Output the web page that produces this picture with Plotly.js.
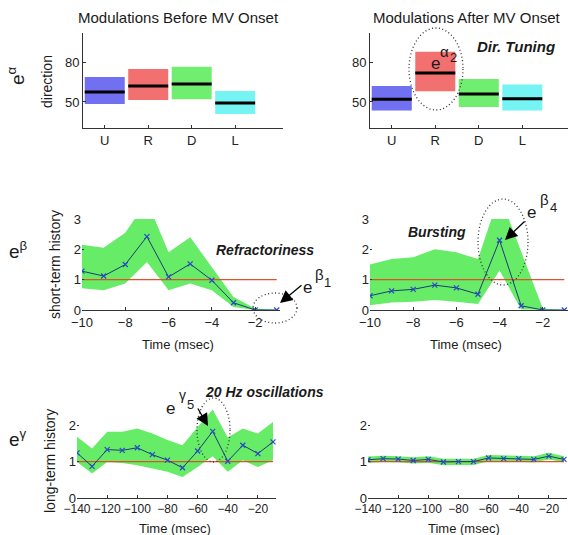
<!DOCTYPE html>
<html><head><meta charset="utf-8">
<script src="https://cdn.plot.ly/plotly-3.0.1.min.js"></script>
<style>html,body{margin:0;padding:0;background:#fff}#chart{width:568px;height:535px}</style>
</head><body><div id="chart"></div>
<script>
// ---------- data ----------
const dirCats = ['U', 'R', 'D', 'L'];
const dirBeforeMean  = [57.7, 62.3, 63.8, 49.2];
const dirBeforeUpper = [69.2, 75.4, 77.0, 58.5];
const dirBeforeLower = [48.5, 51.5, 52.0, 40.8];
const dirAfterMean   = [52.0, 72.2, 56.1, 52.5];
const dirAfterUpper  = [62.3, 88.6, 67.6, 63.4];
const dirAfterLower  = [43.4, 58.2, 46.2, 43.4];

const shortLags = [-10, -9, -8, -7, -6, -5, -4, -3, -2, -1];
const shortBeforeMean  = [1.28, 1.12, 1.50, 2.42, 1.09, 1.52, 0.98, 0.24, 0.00, 0.00];
const shortBeforeUpper = [2.15, 2.05, 2.55, 3.60, 1.90, 2.40, 1.41, 0.43, 0.05, 0.00];
const shortBeforeLower = [0.72, 0.65, 0.87, 1.58, 0.65, 0.87, 0.65, 0.10, 0.00, 0.00];
const shortAfterMean   = [0.47, 0.63, 0.68, 0.82, 0.73, 0.52, 2.30, 0.14, 0.00, 0.00];
const shortAfterUpper  = [1.50, 1.68, 1.74, 2.00, 1.90, 1.68, 3.80, 1.95, 0.05, 0.00];
const shortAfterLower  = [0.16, 0.25, 0.27, 0.33, 0.27, 0.20, 1.30, 0.02, 0.00, 0.00];

const longLags = [-140, -130, -120, -110, -100, -90, -80, -70, -60, -50, -40, -30, -20, -10];
const longBeforeMean  = [1.24, 0.87, 1.33, 1.31, 1.38, 1.19, 1.04, 0.83, 1.29, 1.83, 1.01, 1.45, 1.22, 1.54];
const longBeforeUpper = [1.68, 1.36, 1.82, 1.82, 1.91, 1.77, 1.59, 1.45, 1.95, 2.43, 1.66, 1.91, 1.77, 2.09];
const longBeforeLower = [0.99, 0.67, 0.99, 0.96, 0.90, 0.81, 0.72, 0.58, 0.85, 1.15, 0.72, 1.04, 0.85, 1.04];
const longAfterMean   = [1.05, 1.08, 1.07, 1.03, 1.06, 0.99, 1.00, 1.00, 1.10, 1.08, 1.08, 1.06, 1.15, 1.06];
const longAfterUpper  = [1.14, 1.16, 1.15, 1.12, 1.15, 1.08, 1.08, 1.08, 1.18, 1.17, 1.17, 1.15, 1.24, 1.15];
const longAfterLower  = [0.97, 0.99, 0.98, 0.95, 0.97, 0.90, 0.91, 0.91, 1.01, 1.00, 1.00, 0.98, 1.06, 0.98];

const shortTicks = [-10, -8, -6, -4, -2];
const longTicks = [-140, -120, -100, -80, -60, -40, -20];

// ---------- helpers ----------
const W = 568, H = 535;
const px = v => v / W, py = v => 1 - v / H;
const FONT = 'Liberation Sans, Arial, sans-serif';
const data = [];
const boxColors = ['rgb(112,112,240)', 'rgb(243,112,112)', 'rgb(112,238,112)', 'rgb(118,244,244)'];

function boxes(mean, upper, lower, xa, ya) {
  const pos = dirCats.map((c, i) => i + 1);
  data.push({type: 'bar', x: pos, y: upper.map((u, i) => u - lower[i]), base: lower, width: 0.92,
    marker: {color: boxColors, line: {width: 0}}, xaxis: xa, yaxis: ya, hoverinfo: 'skip'});
  const mx = [], my = [];
  pos.forEach((p, i) => { mx.push(p - 0.46, p + 0.46, null); my.push(mean[i], mean[i], null); });
  data.push({type: 'scatter', mode: 'lines', x: mx, y: my, line: {color: '#000', width: 3}, xaxis: xa, yaxis: ya});
}
function history(lags, mean, upper, lower, xa, ya) {
  data.push({type: 'scatter', mode: 'lines', x: lags.concat(lags.slice().reverse()),
    y: upper.concat(lower.slice().reverse()), fill: 'toself', fillcolor: 'rgb(102,236,102)',
    line: {width: 0}, xaxis: xa, yaxis: ya, hoverinfo: 'skip'});
  data.push({type: 'scatter', mode: 'lines', x: [lags[0], lags[lags.length - 1]], y: [1, 1],
    line: {color: '#e0502c', width: 1.3}, xaxis: xa, yaxis: ya});
  data.push({type: 'scatter', mode: 'lines+markers', x: lags, y: mean,
    line: {color: '#1d3c78', width: 1},
    marker: {symbol: 'x-thin', size: 5, line: {width: 1.2, color: '#2a48c8'}}, xaxis: xa, yaxis: ya});
}

boxes(dirBeforeMean, dirBeforeUpper, dirBeforeLower, 'x', 'y');
boxes(dirAfterMean, dirAfterUpper, dirAfterLower, 'x2', 'y2');
history(shortLags, shortBeforeMean, shortBeforeUpper, shortBeforeLower, 'x3', 'y3');
history(shortLags, shortAfterMean, shortAfterUpper, shortAfterLower, 'x4', 'y4');
history(longLags, longBeforeMean, longBeforeUpper, longBeforeLower, 'x5', 'y5');
history(longLags, longAfterMean, longAfterUpper, longAfterLower, 'x6', 'y6');

const axBase = {showgrid: false, zeroline: false, showline: true, linecolor: '#333', linewidth: 1,
  ticks: 'inside', ticklen: 3, tickcolor: '#333', tickfont: {family: FONT, size: 13, color: '#222'}, fixedrange: true};
const ax = (o) => Object.assign({}, axBase, o);
const xax = (o) => Object.assign({}, axBase, {tickangle: 0}, o);
const smallTicks = {tickfont: {family: FONT, size: 12, color: '#222'}};
const yHist = {showline: false, ticklen: 2};

const layout = {
  width: W, height: H, margin: {l: 0, r: 0, t: 0, b: 0}, showlegend: false,
  paper_bgcolor: '#fff', plot_bgcolor: 'rgba(0,0,0,0)', font: {family: FONT, color: '#222'},
  xaxis:  xax({domain: [px(83), px(283)], anchor: 'y', range: [0.5, 5.1], tickvals: [1, 2, 3, 4], ticktext: dirCats}),
  yaxis:  ax({domain: [py(128), py(33)], anchor: 'x', range: [30, 103], tickvals: [50, 80]}),
  xaxis2: xax({domain: [px(370), 1], anchor: 'y2', range: [0.5, 5.05], tickvals: [1, 2, 3, 4], ticktext: dirCats}),
  yaxis2: ax({domain: [py(128), py(33)], anchor: 'x2', range: [30, 103], tickvals: [50, 80]}),
  xaxis3: xax({domain: [px(82), px(280)], anchor: 'y3', range: [-10, -0.85], tickvals: shortTicks}),
  yaxis3: ax(Object.assign({domain: [py(310), py(219)], anchor: 'x3', range: [0, 3], tickvals: [0, 1, 2, 3]}, yHist)),
  xaxis4: xax({domain: [px(370), 1], anchor: 'y4', range: [-10, -0.83], tickvals: shortTicks}),
  yaxis4: ax(Object.assign({domain: [py(310), py(219)], anchor: 'x4', range: [0, 3], tickvals: [0, 1, 2, 3]}, yHist)),
  xaxis5: xax(Object.assign({domain: [px(77), px(276)], anchor: 'y5', range: [-140, -8], tickvals: longTicks}, smallTicks)),
  yaxis5: ax(Object.assign({domain: [py(498), py(407)], anchor: 'x5', range: [0, 2.5], tickvals: [0, 1, 2]}, yHist)),
  xaxis6: xax(Object.assign({domain: [px(368), px(567)], anchor: 'y6', range: [-140, -8], tickvals: longTicks}, smallTicks)),
  yaxis6: ax(Object.assign({domain: [py(498), py(407)], anchor: 'x6', range: [0, 2.5], tickvals: [0, 1, 2]}, yHist)),
  annotations: [],
  shapes: []
};

function txt(t, x, y, size, extra) {
  layout.annotations.push(Object.assign({text: t, x: px(x), y: py(y), xref: 'paper', yref: 'paper',
    showarrow: false, xanchor: 'center', yanchor: 'middle', font: {family: FONT, size: size, color: '#1a1a1a'}}, extra || {}));
}
function arrow(hx, hy, tx, ty) {
  layout.annotations.push({text: '', x: px(hx), y: py(hy), xref: 'paper', yref: 'paper', showarrow: true,
    ax: tx - hx, ay: ty - hy, arrowhead: 2, arrowsize: 1.9, arrowwidth: 1.3, arrowcolor: '#000'});
}
function ell(x0, y0, x1, y1) {
  layout.shapes.push({type: 'circle', xref: 'paper', yref: 'paper', x0: px(x0), x1: px(x1), y0: py(y1), y1: py(y0),
    line: {color: '#333', width: 1.3, dash: '1px,2.5px'}});
}

txt('Modulations Before MV Onset', 178, 18, 15);
txt('Modulations After MV Onset', 467, 18, 15);
txt('direction', 47, 82, 14, {textangle: -90});
txt('e<sup>α</sup>', 16, 76, 19, {textangle: -90});
txt('<b><i>Dir. Tuning</i></b>', 516, 47, 15);
txt('e', 435, 64, 17); txt('α', 444, 51, 15); txt('2', 453, 58, 13);

txt('short-term history', 55, 265, 14, {textangle: -90});
txt('e<sup>β</sup>', 18, 250, 19);
txt('<b><i>Refractoriness</i></b>', 265, 250, 14);
txt('e', 307, 287, 17); txt('β', 319, 274, 15); txt('1', 327, 282, 13);
arrow(280, 303, 303, 284);
txt('<b><i>Bursting</i></b>', 437, 232, 14);
txt('e', 531, 212, 17); txt('β', 544, 199, 15); txt('4', 553, 207, 13);
arrow(505, 240, 526, 220);
txt('Time (msec)', 178, 344, 13);
txt('Time (msec)', 466, 344, 13);

txt('long-term history', 50, 461, 14, {textangle: -90});
txt('e<sup>γ</sup>', 18, 438, 19);
txt('<b><i>20 Hz oscillations</i></b>', 264, 392, 14);
txt('e', 170, 408, 17); txt('γ', 182, 395, 14); txt('5', 190, 404, 13);
arrow(208, 426, 197, 407);
txt('Time (msec)', 175, 528, 13);
txt('Time (msec)', 464, 528, 13);

ell(409, 28, 463, 110);
ell(253, 293, 297, 323);
ell(478, 199, 528, 285);
ell(197, 398, 230, 462);

Plotly.newPlot('chart', data, layout, {displayModeBar: false, staticPlot: true});
</script></body></html>
